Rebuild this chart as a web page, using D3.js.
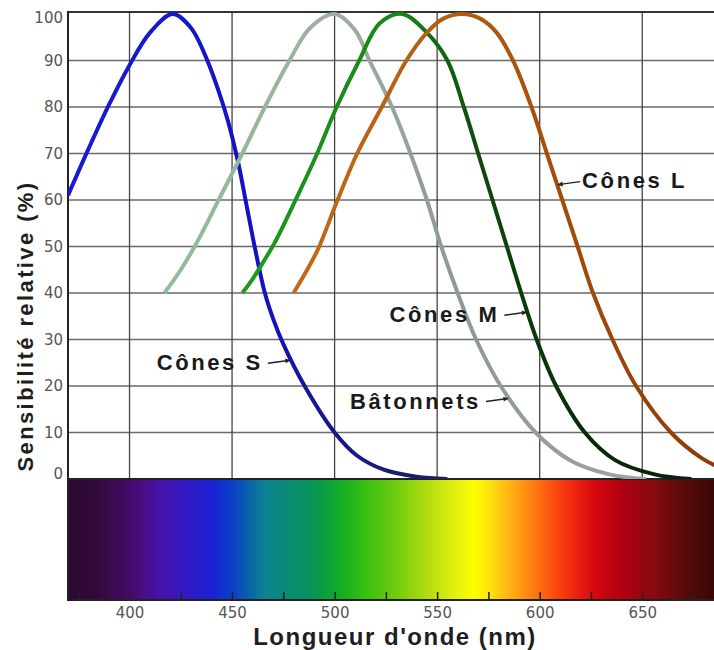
<!DOCTYPE html>
<html>
<head>
<meta charset="utf-8">
<script src="https://cdn.jsdelivr.net/npm/d3@7/dist/d3.min.js"></script>
<style>
  body { margin: 0; background: #fff; }
</style>
</head>
<body>
<div id="chart"></div>
<script>
// axis ticks
var xTicks = d3.range(375, 685, 25);
var xLabels = [400, 450, 500, 550, 600, 650];
var yTicks = d3.range(0, 101, 10);

// sensitivity curves, [wavelength nm, relative %]
var coneS = [[370,61],[380,71],[390,80.5],[400,89],[410,96],[421,100],[430,97],[437,91],[443,84],[448,77],
             [453,68],[457,59],[461,50],[466,40],[470,34.5],[475,29],[486,19.5],[500,10],[511,5],[524,2],[540,0.5],[555,0]];
var rods  = [[417,40],[425,45],[433,51],[444,60.5],[455,70],[466,80],[478,90],[488,97],[500,100],[510,96.5],
             [517,90],[528,80],[537,70],[545,60],[552,50],[560,40],[569,30],[581,20],[598,10],[615,4],[634,1],[652,0]];
var coneM = [[455,40],[460,43],[465,46.5],[471,51],[481.5,60.5],[491.5,70],[501,80],[512,90],[522,98],[533,100],[545,96],
             [555,90],[563,80],[570,70],[577,60],[584,50],[591,40],[598.5,30],[608,20],[622,10],[637,4],[656,1],[674,0]];
var coneL = [[480,40],[486,44.5],[492,49.5],[501,59.5],[511,70],[523,80],[535,90],[545,96],[553,99],[562,100],
             [571,99],[579,96],[587,90],[596,80],[603.5,70],[611,60],[618.5,50],[626,40],[635.5,30],[647,20],[664,10],[679,4.5],[692,1.6]];

// labels and the wavelength where each arrow meets its curve
var labelNames = ["Cônes S", "Bâtonnets", "Cônes M", "Cônes L"];
var labelAt = [478.7, 585, 594, 608.5];

// spectrum colour stops [nm, colour]
var spectrum = [[370,"#2a0a2e"],[385,"#33093d"],[395,"#3e0a58"],[405,"#4a0c7e"],[415,"#4612a8"],[428,"#3318c6"],
  [440,"#1a22d4"],[450,"#0a3ec8"],[458,"#0a62aa"],[466,"#0c8290"],[476,"#0a8a78"],[486,"#089060"],[495,"#0a9e40"],
  [505,"#18b020"],[515,"#38c010"],[530,"#70cc10"],[545,"#b0dc10"],[558,"#e0ee10"],[568,"#ffff00"],[576,"#ffe010"],
  [586,"#ffb010"],[596,"#ff8010"],[606,"#ff5010"],[616,"#f02810"],[626,"#d80a10"],[640,"#b00010"],[655,"#880a10"],
  [670,"#5a0a0a"],[685,"#3a0606"]];

var W = 714, H = 650;
var left = 68, right = 714, top0 = 14, bottom0 = 479;
var specTop = 480, specBottom = 600;

var x = d3.scaleLinear().domain([370, 685]).range([left, right]);
var y = d3.scaleLinear().domain([0, 100]).range([bottom0, top0]);

var svg = d3.select("#chart").append("svg")
    .attr("width", W)
    .attr("height", H)
    .style("font-family", "'Liberation Sans', Arial, sans-serif");

var defs = svg.append("defs");

defs.append("clipPath").attr("id", "plotclip")
  .append("rect")
    .attr("x", left).attr("y", top0 - 3)
    .attr("width", right - left).attr("height", bottom0 - top0 + 3);

// spectrum bar
var sg = defs.append("linearGradient").attr("id", "spec")
    .attr("gradientUnits", "userSpaceOnUse")
    .attr("x1", x(370)).attr("x2", x(685)).attr("y1", 0).attr("y2", 0);
sg.selectAll("stop").data(spectrum).enter().append("stop")
    .attr("offset", function(d) { return (x(d[0]) - x(370)) / (x(685) - x(370)); })
    .attr("stop-color", function(d) { return d[1]; });

svg.append("rect")
    .attr("x", left).attr("y", specTop)
    .attr("width", right - left).attr("height", specBottom - specTop)
    .attr("fill", "url(#spec)");

// grid
svg.append("g").selectAll("line").data(yTicks.filter(function(d) { return d > 0 && d < 100; }))
  .enter().append("line")
    .attr("x1", left).attr("x2", right)
    .attr("y1", function(d) { return y(d); }).attr("y2", function(d) { return y(d); })
    .attr("stroke", "#6a6a6a").attr("stroke-width", 1.6);

svg.append("g").selectAll("line").data(xLabels)
  .enter().append("line")
    .attr("x1", function(d) { return x(d); }).attr("x2", function(d) { return x(d); })
    .attr("y1", top0 - 2).attr("y2", bottom0)
    .attr("stroke", "#444").attr("stroke-width", 1.3);

// frame
svg.append("line").attr("x1", left).attr("x2", right).attr("y1", top0 - 2).attr("y2", top0 - 2)
    .attr("stroke", "#333").attr("stroke-width", 2);
svg.append("line").attr("x1", left).attr("x2", right).attr("y1", bottom0).attr("y2", bottom0)
    .attr("stroke", "#222").attr("stroke-width", 2);
svg.append("line").attr("x1", left).attr("x2", right).attr("y1", specBottom).attr("y2", specBottom)
    .attr("stroke", "#222").attr("stroke-width", 2);
svg.append("line").attr("x1", left).attr("x2", left).attr("y1", top0 - 3).attr("y2", specBottom + 1)
    .attr("stroke", "#222").attr("stroke-width", 2);

// y axis labels
var yAxis = svg.append("g")
    .attr("transform", "translate(" + left + ",0)")
    .call(d3.axisLeft(y).tickValues(yTicks).tickSize(0).tickPadding(5));
yAxis.select(".domain").remove();
yAxis.selectAll("text")
    .attr("fill", "#555")
    .attr("dy", function(d) { return d === 0 ? "-0.05em" : d === 100 ? "0.55em" : "0.32em"; })
    .style("font-family", "'DejaVu Sans', sans-serif")
    .style("font-size", "15px");

// x axis : small ticks inside the spectrum
var xAxis = svg.append("g")
    .attr("transform", "translate(0," + specBottom + ")")
    .call(d3.axisBottom(x).tickValues(xTicks).tickSize(-8).tickPadding(7)
      .tickFormat(function(d) { return xLabels.indexOf(d) >= 0 ? d : ""; }));
xAxis.select(".domain").remove();
xAxis.selectAll("line").attr("stroke", "#222").attr("stroke-width", 1.5);
xAxis.selectAll("text")
    .attr("fill", "#555")
    .style("font-family", "'DejaVu Sans', sans-serif")
    .style("font-size", "15px");

// curves
var series = [
  { data: coneS, stops: [[370,"#1a1ad2"],[465,"#1212c4"],[495,"#17178e"],[555,"#20205e"]] },
  { data: rods,  stops: [[417,"#8fbd99"],[500,"#9eb0a0"],[560,"#8c9a93"],[652,"#a2a2a2"]] },
  { data: coneM, stops: [[455,"#1c9c1c"],[533,"#178417"],[570,"#0d4a0d"],[620,"#082a08"],[674,"#101a10"]] },
  { data: coneL, stops: [[480,"#c26a1a"],[562,"#b25c12"],[620,"#a04a0a"],[692,"#8a3a06"]] }
];

var line = d3.line()
    .x(function(d) { return x(d[0]); })
    .y(function(d) { return y(d[1]); })
    .curve(d3.curveCatmullRom.alpha(0.5));

var curves = svg.append("g").attr("clip-path", "url(#plotclip)");

series.forEach(function(s, i) {
  var x0 = x(s.data[0][0]), x1 = x(s.data[s.data.length - 1][0]);
  var g = defs.append("linearGradient").attr("id", "cg" + i)
      .attr("gradientUnits", "userSpaceOnUse")
      .attr("x1", x0).attr("x2", x1).attr("y1", 0).attr("y2", 0);
  g.selectAll("stop").data(s.stops).enter().append("stop")
      .attr("offset", function(d) { return (x(d[0]) - x0) / (x1 - x0); })
      .attr("stop-color", function(d) { return d[1]; });
  s.path = curves.append("path")
      .datum(s.data)
      .attr("fill", "none")
      .attr("stroke", "url(#cg" + i + ")")
      .attr("stroke-width", 4)
      .attr("d", line);
});

// arrows + labels
defs.append("marker").attr("id", "arrow")
    .attr("viewBox", "0 0 10 10").attr("refX", 9).attr("refY", 5)
    .attr("markerWidth", 7).attr("markerHeight", 5).attr("markerUnits", "userSpaceOnUse")
    .attr("orient", "auto")
  .append("path").attr("d", "M0,0L10,5L0,10Z").attr("fill", "#222");

// y of the drawn curve at screen position px (curves are monotone on the falling side)
function curveY(path, px) {
  var node = path.node(), total = node.getTotalLength();
  var best = null, bestD = Infinity;
  for (var l = 0; l <= total; l += 0.5) {
    var p = node.getPointAtLength(l);
    var dd = Math.abs(p.x - px);
    if (dd < bestD && p.x > x(series[0].data[0][0]) - 1) { bestD = dd; best = p; }
    if (dd < bestD) { bestD = dd; best = p; }
  }
  return best.y;
}

labelNames.forEach(function(name, i) {
  var tx = x(labelAt[i]), ty = curveY(series[i].path, tx);
  var onRight = i === 3;
  var sx = onRight ? tx + 23 : tx - 23;
  var sy = onRight ? ty - 3 : ty + 3;
  svg.append("line")
      .attr("x1", sx).attr("y1", sy).attr("x2", tx - (onRight ? -1 : 1)).attr("y2", ty)
      .attr("stroke", "#222").attr("stroke-width", 1.4)
      .attr("marker-end", "url(#arrow)");
  svg.append("text")
      .attr("x", onRight ? sx + 2 : sx - 5)
      .attr("y", sy + (onRight ? 6 : 7))
      .attr("text-anchor", onRight ? "start" : "end")
      .attr("fill", "#1a1a1a")
      .style("font-weight", "bold")
      .style("font-size", "22px")
      .style("letter-spacing", "2.6px")
      .text(name);
});

// axis titles
svg.append("text")
    .attr("x", 395).attr("y", 645)
    .attr("text-anchor", "middle")
    .attr("fill", "#1e1e1e")
    .style("font-weight", "bold")
    .style("font-size", "24px")
    .style("letter-spacing", "1.5px")
    .text("Longueur d'onde (nm)");

svg.append("text")
    .attr("transform", "translate(33,326) rotate(-90)")
    .attr("text-anchor", "middle")
    .attr("fill", "#1e1e1e")
    .style("font-weight", "bold")
    .style("font-size", "22px")
    .style("letter-spacing", "2.4px")
    .text("Sensibilité relative (%)");
</script>
</body>
</html>
